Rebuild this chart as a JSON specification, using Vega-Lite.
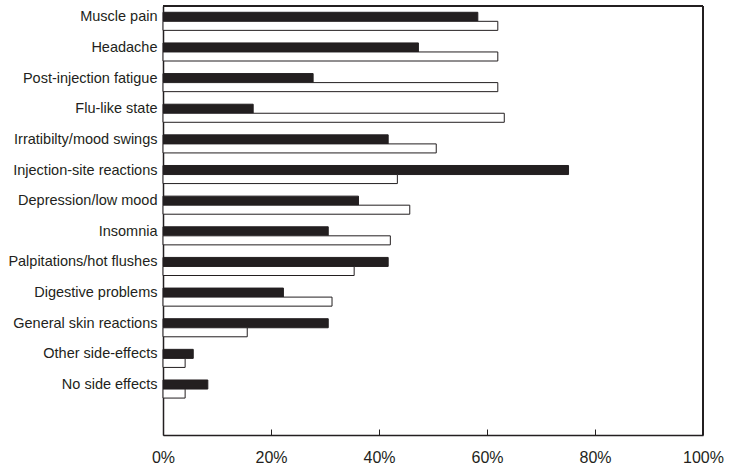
{
  "$schema": "https://vega.github.io/schema/vega-lite/v6.json",
  "width": 540,
  "height": 429,
  "padding": {"left": 7, "top": 5, "right": 5, "bottom": 5},
  "background": "white",
  "config": {
    "view": {"stroke": null},
    "font": "Liberation Sans"
  },
  "data": {
    "values": [
      {"effect": "Muscle pain", "group": "Group 1", "pct": 58.3},
      {"effect": "Muscle pain", "group": "Group 2", "pct": 62.0},
      {"effect": "Headache", "group": "Group 1", "pct": 47.3},
      {"effect": "Headache", "group": "Group 2", "pct": 62.0},
      {"effect": "Post-injection fatigue", "group": "Group 1", "pct": 27.8},
      {"effect": "Post-injection fatigue", "group": "Group 2", "pct": 62.0},
      {"effect": "Flu-like state", "group": "Group 1", "pct": 16.7},
      {"effect": "Flu-like state", "group": "Group 2", "pct": 63.2},
      {"effect": "Irratibilty/mood swings", "group": "Group 1", "pct": 41.7},
      {"effect": "Irratibilty/mood swings", "group": "Group 2", "pct": 50.6},
      {"effect": "Injection-site reactions", "group": "Group 1", "pct": 75.1},
      {"effect": "Injection-site reactions", "group": "Group 2", "pct": 43.4},
      {"effect": "Depression/low mood", "group": "Group 1", "pct": 36.2},
      {"effect": "Depression/low mood", "group": "Group 2", "pct": 45.7},
      {"effect": "Insomnia", "group": "Group 1", "pct": 30.6},
      {"effect": "Insomnia", "group": "Group 2", "pct": 42.1},
      {"effect": "Palpitations/hot flushes", "group": "Group 1", "pct": 41.7},
      {"effect": "Palpitations/hot flushes", "group": "Group 2", "pct": 35.4},
      {"effect": "Digestive problems", "group": "Group 1", "pct": 22.3},
      {"effect": "Digestive problems", "group": "Group 2", "pct": 31.3},
      {"effect": "General skin reactions", "group": "Group 1", "pct": 30.6},
      {"effect": "General skin reactions", "group": "Group 2", "pct": 15.6},
      {"effect": "Other side-effects", "group": "Group 1", "pct": 5.6},
      {"effect": "Other side-effects", "group": "Group 2", "pct": 4.1},
      {"effect": "No side effects", "group": "Group 1", "pct": 8.3},
      {"effect": "No side effects", "group": "Group 2", "pct": 4.1}
    ]
  },
  "resolve": {"scale": {"y": "independent"}},
  "layer": [
    {
      "mark": {"type": "bar", "stroke": "#231f20", "strokeWidth": 1},
      "encoding": {
        "y": {
          "field": "effect",
          "type": "nominal",
          "scale": {
            "domain": ["Muscle pain", "Headache", "Post-injection fatigue", "Flu-like state", "Irratibilty/mood swings", "Injection-site reactions", "Depression/low mood", "Insomnia", "Palpitations/hot flushes", "Digestive problems", "General skin reactions", "Other side-effects", "No side effects", " "],
            "paddingInner": 0.41,
            "paddingOuter": 0.205
          },
          "axis": {
            "title": null,
            "ticks": false,
            "domain": true,
            "domainColor": "#231f20",
            "domainWidth": 1.5,
            "labelFontSize": 14.5,
            "labelColor": "#231f20",
            "labelPadding": 6,
            "labelOffset": -4,
            "labelLimit": 300
          }
        },
        "yOffset": {"field": "group", "type": "nominal", "sort": ["Group 1", "Group 2"]},
        "x": {
          "field": "pct",
          "type": "quantitative",
          "scale": {"domain": [0, 100], "nice": false},
          "axis": {
            "title": null,
            "values": [0, 20, 40, 60, 80, 100],
            "labelExpr": "datum.value + '%'",
            "grid": false,
            "tickSize": -6,
            "tickColor": "#231f20",
            "tickWidth": 1,
            "domainColor": "#231f20",
            "domainWidth": 1.5,
            "labelFontSize": 16,
            "labelColor": "#231f20",
            "labelPadding": 20,
            "labelFlush": false
          }
        },
        "fill": {
          "field": "group",
          "type": "nominal",
          "scale": {"domain": ["Group 1", "Group 2"], "range": ["#231f20", "#ffffff"]},
          "legend": null
        }
      }
    },
    {
      "mark": {"type": "rule", "color": "#231f20", "strokeWidth": 2},
      "encoding": {
        "x": {"datum": 100, "type": "quantitative"}
      }
    },
    {
      "mark": {"type": "rule", "color": "#231f20", "strokeWidth": 2},
      "encoding": {
        "y": {"datum": 1, "type": "quantitative", "scale": {"domain": [0, 1]}, "axis": null}
      }
    }
  ]
}
